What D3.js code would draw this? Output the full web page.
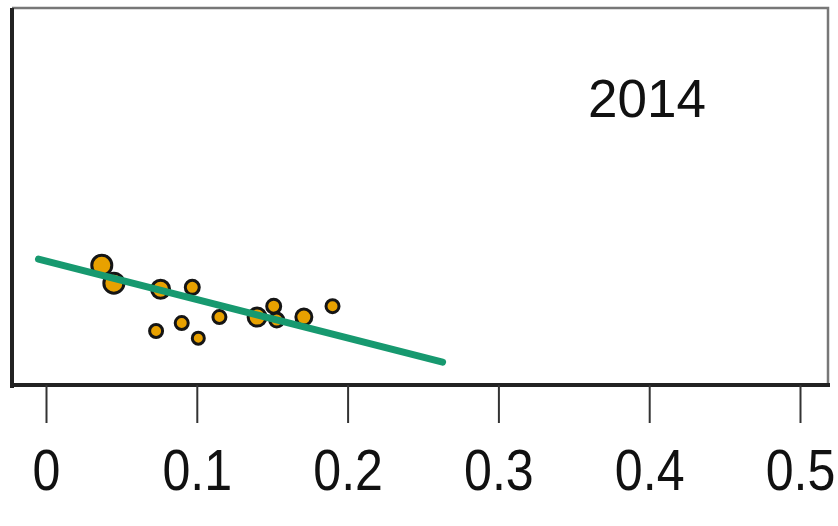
<!DOCTYPE html>
<html>
<head>
<meta charset="utf-8">
<script src="https://cdn.jsdelivr.net/npm/d3@7"></script>
<style>
  body { margin: 0; background: #fff; }
  text { font-family: "Liberation Sans", Arial, sans-serif; fill: #111; }
</style>
</head>
<body>
<script>
// chart data
var ptX = [0.037, 0.045, 0.076, 0.097, 0.073, 0.090, 0.101, 0.115, 0.140, 0.151, 0.153, 0.171, 0.190];
var ptY = [0.316, 0.268, 0.252, 0.257, 0.141, 0.162, 0.122, 0.178, 0.178, 0.207, 0.170, 0.178, 0.207];
var ptR = [10, 10, 9, 7, 6.5, 6.5, 6, 6.5, 9, 7, 7, 8, 6.5];
var fitX = [-0.005, 0.263];
var fitY = [0.332, 0.058];
var tickVals = [0, 0.1, 0.2, 0.3, 0.4, 0.5];
var tickLabels = ["0", "0.1", "0.2", "0.3", "0.4", "0.5"];
var panelLabel = "2014";

var width = 838;
var height = 526;

var svg = d3.select("body").append("svg")
            .attr("width", width)
            .attr("height", height);

var x = d3.scaleLinear().domain([0, 0.5]).range([46, 800]);
var y = d3.scaleLinear().domain([0, 1]).range([384, 8]);

// box: thin grey top/right, heavy dark left/bottom
svg.append("path")
   .attr("d", "M12,8 H828 V384")
   .attr("fill", "none")
   .attr("stroke", "#777")
   .attr("stroke-width", 2.5);
svg.append("path")
   .attr("d", "M12,8 V388 M10,385 H830")
   .attr("fill", "none")
   .attr("stroke", "#222")
   .attr("stroke-width", 4);

// x axis
var xAxis = d3.axisBottom(x)
              .tickValues(tickVals)
              .tickFormat(function(d, i) { return tickLabels[i]; })
              .tickSize(38)
              .tickPadding(27);
var ax = svg.append("g")
            .attr("transform", "translate(0,385)")
            .call(xAxis);
ax.select(".domain").remove();
ax.selectAll(".tick line").attr("stroke", "#333").attr("stroke-width", 2);
ax.selectAll(".tick text")
  .style("font-size", "57px")
  .style("font-family", "'Liberation Sans', Arial, sans-serif")
  .attr("transform", "scale(0.88,1)")
  .attr("fill", "#111");

// points
var pts = ptX.map(function(d, i) { return { x: d, y: ptY[i], r: ptR[i] }; });
svg.append("g").selectAll("circle")
   .data(pts)
   .enter().append("circle")
   .attr("cx", function(d) { return x(d.x); })
   .attr("cy", function(d) { return y(d.y); })
   .attr("r", function(d) { return d.r; })
   .attr("fill", "#e8a100")
   .attr("stroke", "#151515")
   .attr("stroke-width", 3);

// fitted line drawn on top
var line = d3.line()
             .x(function(d) { return x(d[0]); })
             .y(function(d) { return y(d[1]); });
svg.append("path")
   .datum(fitX.map(function(d, i) { return [d, fitY[i]]; }))
   .attr("d", line)
   .attr("fill", "none")
   .attr("stroke", "#17996f")
   .attr("stroke-width", 7)
   .attr("stroke-linecap", "round");

svg.append("text")
   .attr("x", 647)
   .attr("y", 117)
   .attr("text-anchor", "middle")
   .style("font-size", "53px")
   .text(panelLabel);
</script>
</body>
</html>
